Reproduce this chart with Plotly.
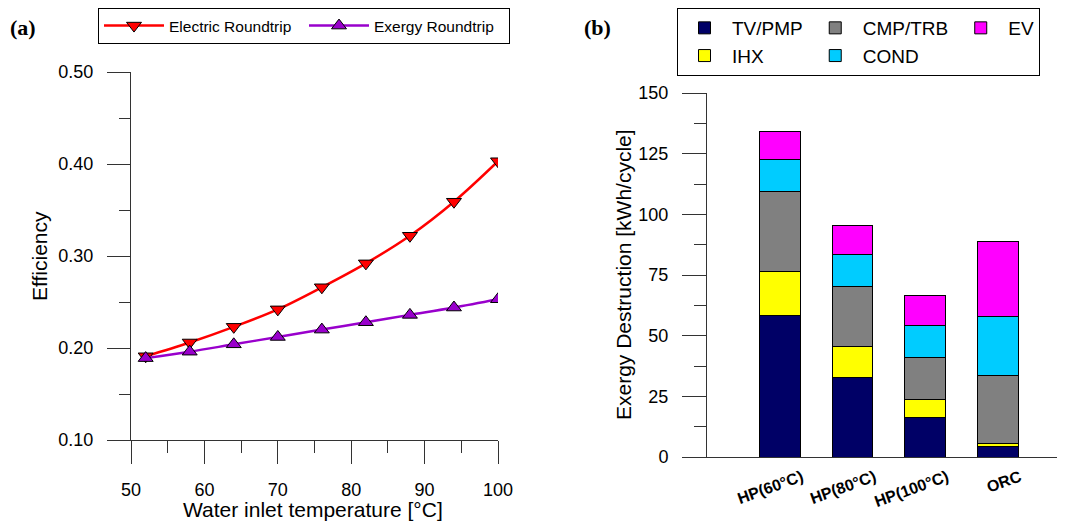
import plotly.graph_objects as go

# ---- data (a) ----
temps = [52, 58, 64, 70, 76, 82, 88, 94, 100]
electric_rt = [0.191, 0.206, 0.223, 0.242, 0.266, 0.292, 0.322, 0.359, 0.403]
exergy_rt = [0.189, 0.196, 0.204, 0.212, 0.220, 0.228, 0.236, 0.244, 0.253]

# ---- data (b) ----
cases = ["HP(60°C)", "HP(80°C)", "HP(100°C)", "ORC"]
tv_pmp = [58.5, 32.7, 16.2, 4.2]
ihx = [17.8, 12.7, 7.7, 1.4]
cmp_trb = [33.3, 24.8, 17.2, 28.1]
cond = [13.1, 13.3, 13.2, 24.4]
ev = [11.3, 11.7, 12.2, 30.9]

# page body has an 8px margin: figure sized to fit the window
OFF = 8
W, H = 1065 - OFF, 524 - OFF
FONT = "Liberation Sans, Arial, sans-serif"
AX = "#333333"

def px_x(p):
    return (p - OFF) / W

def px_y(p):
    return 1 - (p - OFF) / H

fig = go.Figure()

fig.add_trace(go.Scatter(
    x=temps, y=electric_rt, name="Electric Roundtrip", mode="lines+markers",
    line=dict(color="#ff0000", width=2.5, shape="spline"),
    marker=dict(symbol="triangle-down", size=13, color="#ff0000",
                line=dict(color="#000000", width=1)),
    xaxis="x", yaxis="y", legend="legend"))
fig.add_trace(go.Scatter(
    x=temps, y=exergy_rt, name="Exergy Roundtrip", mode="lines+markers",
    line=dict(color="#9900cc", width=2.5, shape="spline"),
    marker=dict(symbol="triangle-up", size=13, color="#9900cc",
                line=dict(color="#000000", width=1)),
    xaxis="x", yaxis="y", legend="legend"))

bar_series = [
    ("TV/PMP", tv_pmp, "#000066", "g1"),
    ("IHX", ihx, "#ffff00", "g1"),
    ("CMP/TRB", cmp_trb, "#808080", "g2"),
    ("COND", cond, "#00ccff", "g2"),
    ("EV", ev, "#ff00ff", "g3"),
]
for name, vals, col, grp in bar_series:
    fig.add_trace(go.Bar(
        x=cases, y=vals, name=name, width=0.56, legendgroup=grp,
        marker=dict(color=col, line=dict(color="#000000", width=1)),
        xaxis="x2", yaxis="y2", legend="legend2"))

title_font = dict(family=FONT, size=21, color="#000000")

fig.update_layout(
    width=W, height=H,
    margin=dict(l=0, r=0, t=0, b=0, autoexpand=False),
    paper_bgcolor="white", plot_bgcolor="white",
    font=dict(family=FONT, color="#000000", size=18),
    barmode="stack",
    xaxis=dict(
        domain=[px_x(131), px_x(498)], range=[50, 100], dtick=10,
        ticks="outside", ticklen=23, tickwidth=1, tickcolor=AX,
        minor=dict(ticks="outside", ticklen=12, dtick=5, tickcolor=AX),
        showline=True, linecolor=AX, linewidth=1, showgrid=False, zeroline=False,
        ticklabelstandoff=10, tickfont=dict(size=18),
        anchor="y", automargin=False),
    yaxis=dict(
        domain=[px_y(440), px_y(72)], range=[0.1, 0.5], dtick=0.1, tickformat=".2f",
        ticks="outside", ticklen=23, tickwidth=1, tickcolor=AX,
        minor=dict(ticks="outside", ticklen=11, dtick=0.05, tickcolor=AX),
        showline=True, linecolor=AX, linewidth=1, showgrid=False, zeroline=False,
        ticklabelstandoff=10, tickfont=dict(size=18),
        anchor="x", automargin=False),
    xaxis2=dict(
        domain=[px_x(707), px_x(1060)], type="category", range=[-1.0, 3.855],
        ticks="", showline=True, linecolor=AX, linewidth=1, showgrid=False,
        tickangle=-20, tickfont=dict(size=16),
        tickvals=cases, ticktext=[f"<b>{c}</b>" for c in cases],
        ticklabelshift=22, ticklabelstandoff=4,
        anchor="y2", automargin=False),
    yaxis2=dict(
        domain=[px_y(457), px_y(93)], range=[0, 150], dtick=25,
        ticks="outside", ticklen=24, tickwidth=1, tickcolor=AX,
        minor=dict(ticks="outside", ticklen=12, dtick=12.5, tickcolor=AX),
        showline=True, linecolor=AX, linewidth=1, showgrid=False, zeroline=False,
        ticklabelstandoff=10, tickfont=dict(size=18),
        anchor="x2", automargin=False),
    legend=dict(
        x=px_x(98), y=px_y(8), xanchor="left", yanchor="top",
        orientation="h", bordercolor="#000000", borderwidth=1,
        bgcolor="white", font=dict(size=15.5), itemwidth=60,
        entrywidth=130, entrywidthmode="pixels"),
    legend2=dict(
        x=px_x(677), y=px_y(8), xanchor="left", yanchor="top",
        orientation="h", traceorder="grouped", bordercolor="#000000", borderwidth=1,
        bgcolor="white", font=dict(size=19), tracegroupgap=0, itemwidth=45),
    annotations=[
        dict(text="<b>(a)</b>", x=px_x(8), y=px_y(28), xref="paper", yref="paper",
             xanchor="left", yanchor="middle", showarrow=False,
             font=dict(family="Liberation Serif, Times New Roman, serif", size=22)),
        dict(text="<b>(b)</b>", x=px_x(582), y=px_y(28), xref="paper", yref="paper",
             xanchor="left", yanchor="middle", showarrow=False,
             font=dict(family="Liberation Serif, Times New Roman, serif", size=22)),
        dict(text="Water inlet temperature [°C]", x=px_x(313), y=px_y(509),
             xref="paper", yref="paper", xanchor="center", yanchor="middle",
             showarrow=False, font=title_font),
        dict(text="Efficiency", x=px_x(40), y=px_y(256), textangle=-90,
             xref="paper", yref="paper", xanchor="center", yanchor="middle",
             showarrow=False, font=title_font),
        dict(text="Exergy Destruction [kWh/cycle]", x=px_x(623), y=px_y(275), textangle=-90,
             xref="paper", yref="paper", xanchor="center", yanchor="middle",
             showarrow=False, font=title_font),
    ],
)

fig.write_html("out.html")
